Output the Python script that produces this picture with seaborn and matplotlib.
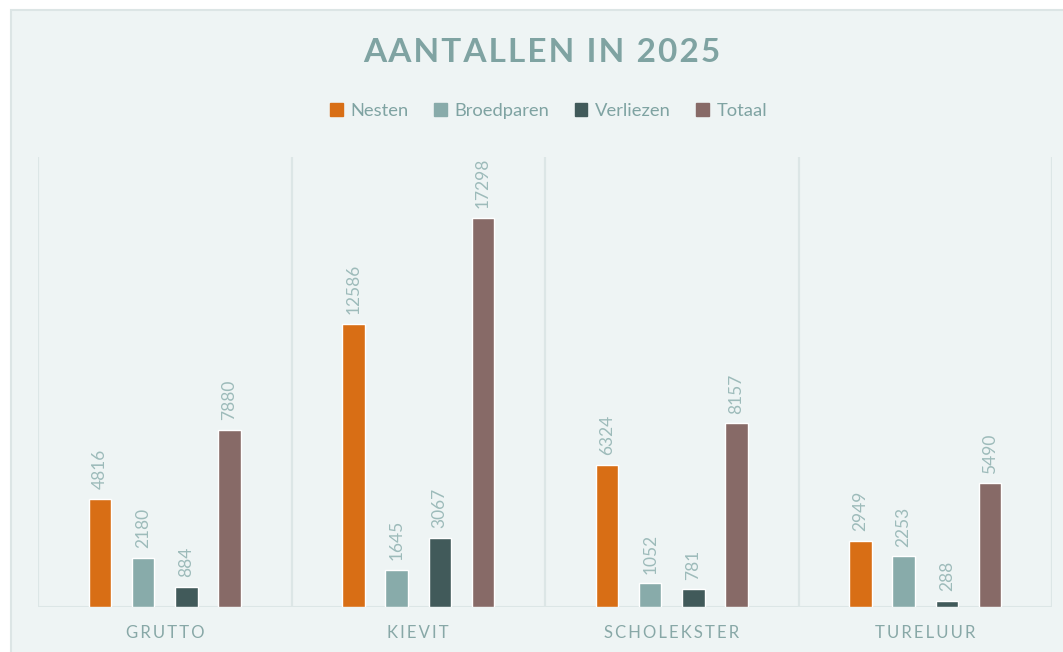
import pandas as pd
import seaborn as sns
import matplotlib.pyplot as plt
from matplotlib.patches import Rectangle

# === Data ===
soorten = ["GRUTTO", "KIEVIT", "SCHOLEKSTER", "TURELUUR"]
reeksen = ["Nesten", "Broedparen", "Verliezen", "Totaal"]
nesten = [4816, 12586, 6324, 2949]
broedparen = [2180, 1645, 1052, 2253]
verliezen = [884, 3067, 781, 288]
totaal = [7880, 17298, 8157, 5490]

kleuren = ["#D86E15", "#88ABAA", "#415A5A", "#876A67"]
bg = "#EEF4F4"
tekst = "#7FA3A2"

df = pd.DataFrame({
    "soort": soorten * 4,
    "reeks": [r for r in reeksen for _ in soorten],
    "aantal": nesten + broedparen + verliezen + totaal,
})

sns.set_style("white")
plt.rcParams["font.family"] = ["Lato", "DejaVu Sans"]

fig = plt.figure(figsize=(10.63, 6.52), dpi=100, facecolor="white")
fig.patches.append(Rectangle((11 / 1063, -0.1), 1.2, 1 - 10 / 652 + 0.1,
                             transform=fig.transFigure, facecolor=bg,
                             edgecolor="#DCE5E5", linewidth=1.5, zorder=-10))

ax = fig.add_axes([38 / 1063, 1 - 607 / 652, (1052 - 38) / 1063, (607 - 157) / 652])
ax.set_facecolor(bg)

sns.barplot(data=df, x="soort", y="aantal", hue="reeks", palette=kleuren,
            width=0.68, gap=0.48, ax=ax, legend=False, saturation=1)

ax.set_ylim(0, 20000)
ax.set_xlim(-0.5, 3.5)
for c in ax.containers:
    ax.bar_label(c, labels=[f"{int(v)}" for v in c.datavalues], rotation=90,
                 padding=7, color="#9DBBBA", fontsize=12.5)

# verticale scheidingslijnen
for x in [-0.5, 0.5, 1.5, 2.5, 3.5]:
    ax.axvline(x, color="#DCE6E6", linewidth=1.6, zorder=0)
ax.axhline(0, color="#DCE6E6", linewidth=2.2, zorder=0)

for s in ax.spines.values():
    s.set_visible(False)
ax.set_yticks([])
ax.set_xlabel("")
ax.set_ylabel("")
ax.tick_params(axis="x", length=0, pad=13)
ax.set_xticks(range(len(soorten)))
ax.set_xticklabels(["\u2009".join(s) for s in soorten], color="#88A8A7", fontsize=12)

# titel
fig.text(0.51, 1 - 52 / 652, "\u200a".join("AANTALLEN IN 2025"), ha="center", va="center",
         fontsize=24, fontweight="bold", color=tekst)

# legenda
handles = [Rectangle((0, 0), 1, 1, color=k) for k in kleuren]
fig.legend(handles, reeksen, loc="center", bbox_to_anchor=(0.516, 1 - 111 / 652),
           ncol=4, frameon=False, fontsize=13.2, labelcolor=tekst,
           handlelength=0.7, handleheight=0.7, columnspacing=1.4, handletextpad=0.4)

plt.savefig("out.png", dpi=100, facecolor="white")
plt.close()
